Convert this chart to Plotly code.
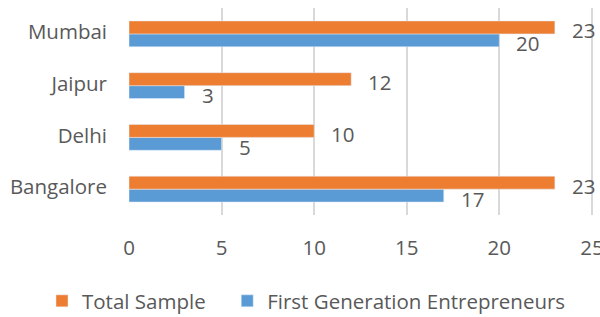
import plotly.graph_objects as go

cities = ["Bangalore", "Delhi", "Jaipur", "Mumbai"]
total_sample = [23, 10, 12, 23]
first_gen = [17, 5, 3, 20]
x_ticks = [0, 5, 10, 15, 20, 25]

ORANGE = "#ED7D31"
BLUE = "#5B9BD5"
TXT = "#595959"
FONT = "Open Sans"
FS = 20.5

fig = go.Figure()
fig.add_trace(go.Bar(y=cities, x=first_gen, orientation="h", name="First Generation Entrepreneurs",
                     marker=dict(color=BLUE), legend="legend2"))
fig.add_trace(go.Bar(y=cities, x=total_sample, orientation="h", name="Total Sample",
                     marker=dict(color=ORANGE), legend="legend"))

for c, v in zip(cities, total_sample):
    fig.add_annotation(x=v, y=c, text=str(v), showarrow=False, xanchor="left", yanchor="middle",
                       xshift=15, yshift=3.5, font=dict(family=FONT, size=FS, color=TXT))
for c, v in zip(cities, first_gen):
    fig.add_annotation(x=v, y=c, text=str(v), showarrow=False, xanchor="left", yanchor="middle",
                       xshift=15, yshift=-9.5, font=dict(family=FONT, size=FS, color=TXT))

leg_common = dict(orientation="h", yanchor="middle", y=0.0505, yref="container", xref="container",
                  xanchor="left", font=dict(family=FONT, size=FS, color=TXT), itemwidth=30,
                  bgcolor="rgba(0,0,0,0)")

fig.update_layout(
    width=600, height=317,
    margin=dict(l=129, r=7, t=8, b=102, autoexpand=False),
    paper_bgcolor="white", plot_bgcolor="white",
    barmode="group", bargap=0.5, bargroupgap=0,
    font=dict(family=FONT, size=FS, color=TXT),
    xaxis=dict(range=[0, 25.06], tickvals=x_ticks, showgrid=True, gridcolor="#D9D9D9", gridwidth=2,
               zeroline=False, showline=False, ticklabelstandoff=18, automargin=False,
               ticklabeloverflow="allow",
               tickfont=dict(family=FONT, size=FS, color=TXT)),
    yaxis=dict(showgrid=False, zeroline=False, showline=False, ticklabelstandoff=21, automargin=False,
               ticklabelshift=-2,
               tickfont=dict(family=FONT, size=FS, color=TXT)),
    legend=dict(x=0.070, **leg_common),
    legend2=dict(x=0.3787, **leg_common),
    showlegend=True,
)

fig.write_html("out.html", config={"displayModeBar": False},
               post_script="document.body.style.margin='0';document.body.style.overflow='hidden';")
